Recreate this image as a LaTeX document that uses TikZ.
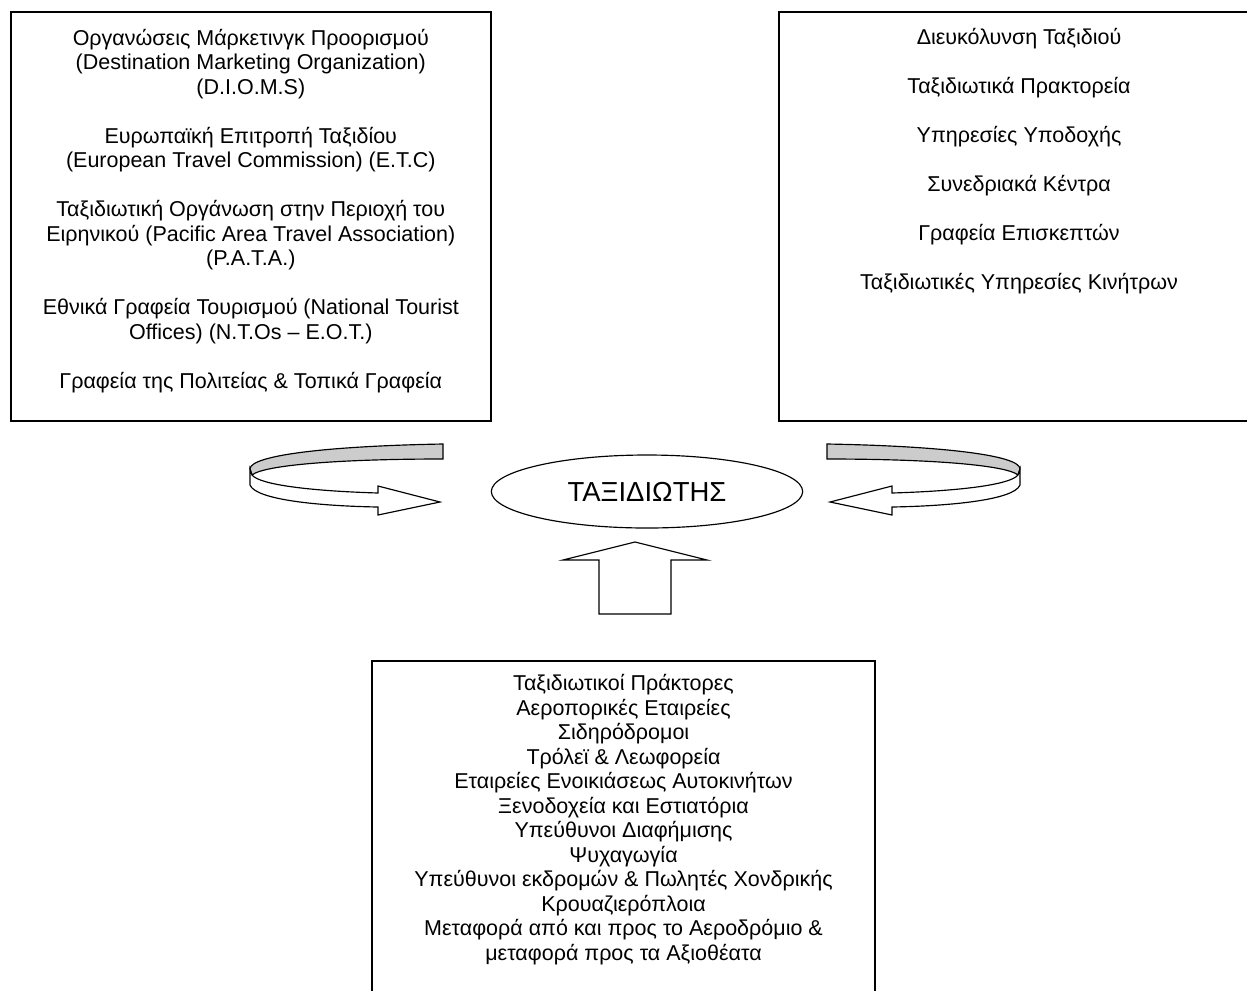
\documentclass[tikz,border=0pt]{standalone}
\usepackage{fontspec}
\setmainfont{Liberation Sans}
\usetikzlibrary{shapes.geometric}
\tikzset{
  boxtext/.style={align=center,inner sep=0pt,font=\fontsize{12.9}{14.7}\selectfont},
  frame/.style={draw=black,line width=1pt,fill=none},
  shapeline/.style={draw=black,line width=0.7pt,line join=miter},
  bandfill/.style={shapeline,fill=gray!40},
  frontfill/.style={shapeline,fill=white}
}
\begin{document}
\begin{tikzpicture}[x=0.6pt,y=-0.6pt]
\useasboundingbox (0,0) rectangle (1247,990);
\begin{scope}
\clip (0,0) rectangle (1247,990);
% boxes
\draw[frame] (10.7,12.3) rectangle (491,420.7);
\draw[frame] (778.7,12.3) rectangle (1259,420.7);
\draw[frame] (372,660.7) rectangle (875,1000);
\end{scope}

\node[boxtext,anchor=north] (lefttext) at (250.8,28.5) {%
Οργανώσεις Μάρκετινγκ Προορισμού\\
(Destination Marketing Organization)\\
(D.I.O.M.S)\\[14.7pt]
Ευρωπαϊκή Επιτροπή Ταξιδίου\\
(European Travel Commission) (E.T.C)\\[14.7pt]
Ταξιδιωτική Οργάνωση στην Περιοχή του\\
Ειρηνικού (Pacific Area Travel Association)\\
(P.A.T.A.)\\[14.7pt]
Εθνικά Γραφεία Τουρισμού (National Tourist\\
Offices) (N.T.Os – E.O.T.)\\[14.7pt]
Γραφεία της Πολιτείας \& Τοπικά Γραφεία};

\node[boxtext,anchor=north] (righttext) at (1019,28) {%
Διευκόλυνση Ταξιδιού\\[14.7pt]
Ταξιδιωτικά Πρακτορεία\\[14.7pt]
Υπηρεσίες Υποδοχής\\[14.7pt]
Συνεδριακά Κέντρα\\[14.7pt]
Γραφεία Επισκεπτών\\[14.7pt]
Ταξιδιωτικές Υπηρεσίες Κινήτρων};

\node[boxtext,anchor=north] (bottomtext) at (623.5,674) {%
Ταξιδιωτικοί Πράκτορες\\
Αεροπορικές Εταιρείες\\
Σιδηρόδρομοι\\
Τρόλεϊ \& Λεωφορεία\\
Εταιρείες Ενοικιάσεως Αυτοκινήτων\\
Ξενοδοχεία και Εστιατόρια\\
Υπεύθυνοι Διαφήμισης\\
Ψυχαγωγία\\
Υπεύθυνοι εκδρομών \& Πωλητές Χονδρικής\\
Κρουαζιερόπλοια\\
Μεταφορά από και προς το Αεροδρόμιο \&\\
μεταφορά προς τα Αξιοθέατα};

% traveller
\node[ellipse,draw=black,line width=0.7pt,minimum width=186.8pt,minimum height=43.8pt,inner sep=0pt,
      font=\fontsize{16.5}{20}\selectfont] (trav) at (647,491.5) {ΤΑΞΙΔΙΩΤΗΣ};

% left curved arrow
\path[bandfill] (443,444) .. controls (330,446) and (250,455) .. (250,469)
   -- (252,475) .. controls (264,465) and (340,459) .. (443,459) -- cycle;
\path[frontfill] (250,469) -- (250,485) .. controls (256,500) and (320,506) .. (378,507)
   -- (378,515) -- (440,502) -- (378,486) -- (378,493)
   .. controls (312,491) and (260,485) .. (252,475) -- cycle;

% right curved arrow (mirror image)
\path[bandfill] (827,444) .. controls (940,446) and (1020,455) .. (1020,469)
   -- (1018,475) .. controls (1006,465) and (930,459) .. (827,459) -- cycle;
\path[frontfill] (1020,469) -- (1020,485) .. controls (1014,500) and (950,506) .. (892,507)
   -- (892,515) -- (830,502) -- (892,486) -- (892,493)
   .. controls (958,491) and (1010,485) .. (1018,475) -- cycle;

% up arrow
\path[frontfill] (599,614) -- (599,560) -- (563,560) -- (635,542) -- (707,560)
   -- (671,560) -- (671,614) -- cycle;
\end{tikzpicture}
\end{document}
